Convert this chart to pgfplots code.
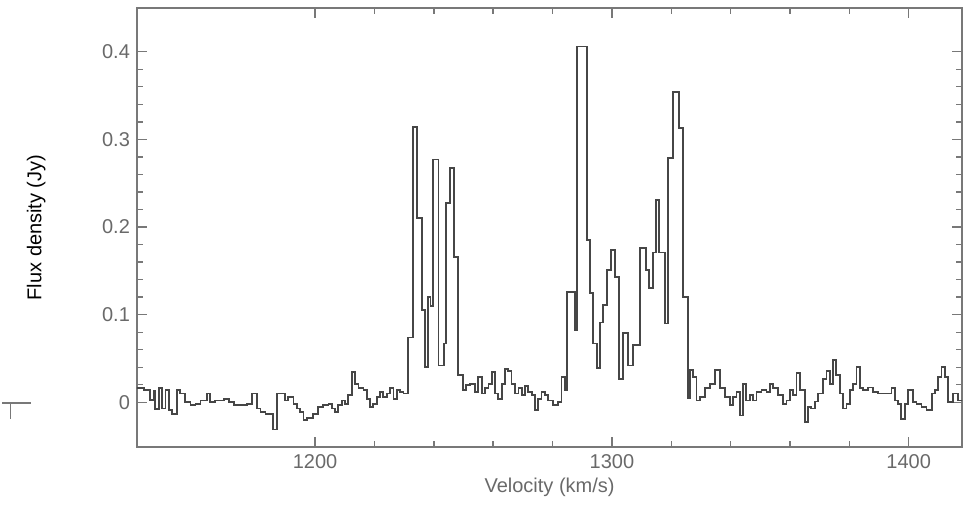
\documentclass[border=0pt]{standalone}
\usepackage{pgfplots}
\pgfplotsset{compat=1.18}
\usepackage{fontspec}
\setmainfont{Liberation Sans}

\definecolor{txtgray}{RGB}{105,105,105}
\definecolor{framegray}{RGB}{120,120,120}
\definecolor{specgray}{RGB}{70,70,70}

\begin{document}
\begin{tikzpicture}
\begin{axis}[
    scale only axis,
    width=412.5pt, height=219.5pt,
    xmin=1140, xmax=1418,
    ymin=-0.051, ymax=0.45,
    xtick={1200,1300,1400},
    xticklabels={1200,1300,1400},
    ytick={0,0.1,0.2,0.3,0.4},
    yticklabels={0,0.1,0.2,0.3,0.4},
    minor x tick num=4,
    minor y tick num=4,
    major tick length=5pt,
    minor tick length=3pt,
    every tick/.style={framegray, line width=0.7pt},
    axis line style={framegray, line width=0.8pt},
    tick align=inside,
    every tick label/.append style={font=\fontsize{10}{12}\selectfont, text=txtgray},
    /pgf/number format/assume math mode=true,
    xlabel={Velocity (km/s)},
    ylabel={Flux density (Jy)},
    label style={font=\fontsize{10}{12}\selectfont, text=txtgray},
    every axis y label/.style={at={(rel axis cs:-0.122,0.5)}, rotate=90, anchor=center},
    xlabel style={yshift=2pt},
    clip mode=individual,
]
\addplot[const plot, color=specgray, line width=0.9pt] coordinates {
(1139.0,0.016)(1142.3,0.014)(1144.5,0.003)(1145.7,0.013)(1146.2,-0.008)
(1147.4,0.016)(1148.5,-0.007)(1149.6,0.014)(1150.7,-0.009)(1151.9,-0.013)
(1153.5,0.014)(1154.6,0.010)(1156.3,0.000)(1158.0,-0.003)(1159.7,-0.002)
(1161.4,0.002)(1163.6,0.010)(1164.7,0.000)(1166.4,0.002)(1169.3,0.004)
(1170.9,0.000)(1172.6,-0.003)(1174.9,-0.003)(1177.1,-0.002)(1178.8,0.010)
(1180.5,-0.007)(1181.6,-0.011)(1183.3,-0.013)(1185.8,-0.031)(1187.1,0.010)
(1188.2,0.010)(1189.9,0.002)(1191.0,0.006)(1192.7,-0.002)(1193.8,-0.007)
(1194.9,-0.011)(1196.1,-0.020)(1197.2,-0.018)(1199.4,-0.013)(1201.1,-0.005)
(1202.8,-0.003)(1204.5,-0.002)(1205.6,-0.007)(1206.7,-0.011)(1207.8,-0.003)
(1209.0,0.002)(1210.1,-0.002)(1211.2,0.008)(1212.4,0.035)(1213.5,0.021)
(1214.6,0.016)(1216.3,0.014)(1217.4,0.004)(1218.5,-0.005)(1219.6,-0.002)
(1220.8,0.006)(1221.9,0.012)(1223.0,0.006)(1224.1,0.010)(1225.3,0.016)
(1226.4,0.004)(1227.5,0.014)(1228.6,0.012)(1229.8,0.010)
(1231.3,0.074)(1233.0,0.314)(1234.3,0.210)(1235.9,0.105)(1237.0,0.040)
(1238.0,0.120)(1238.9,0.110)(1239.7,0.277)(1241.6,0.042)(1243.4,0.067)
(1244.1,0.227)(1245.5,0.267)(1246.8,0.166)(1248.1,0.031)(1249.8,0.014)
(1250.8,0.020)(1252.2,0.021)(1253.9,0.012)(1255.0,0.029)(1256.1,0.010)
(1257.2,0.016)(1258.4,0.021)(1259.5,0.035)(1260.6,0.010)(1261.7,0.004)
(1262.9,0.021)(1264.0,0.038)(1265.1,0.036)(1266.2,0.021)(1267.3,0.010)
(1268.5,0.016)(1269.6,0.008)(1270.7,0.019)(1271.8,0.012)(1273.0,0.008)
(1274.1,-0.009)(1275.2,0.004)(1276.3,0.012)(1277.4,0.008)(1278.6,0.002)
(1280.2,-0.003)(1281.9,0.000)(1283.0,0.029)(1284.2,0.014)(1284.8,0.126)
(1287.5,0.082)(1288.2,0.406)(1291.6,0.185)(1292.6,0.125)(1293.6,0.067)
(1295.0,0.039)(1296.0,0.091)(1297.0,0.111)(1298.3,0.151)(1299.7,0.174)
(1301.0,0.143)(1302.4,0.027)(1303.7,0.079)(1305.4,0.042)(1307.1,0.065)
(1309.4,0.176)(1311.4,0.151)(1312.5,0.130)(1313.8,0.171)(1314.8,0.231)
(1315.8,0.171)(1317.8,0.090)(1318.9,0.279)(1320.5,0.354)(1322.6,0.313)
(1323.9,0.120)(1325.6,0.005)(1326.3,0.037)(1327.4,0.029)(1328.5,0.002)
(1329.6,0.006)(1331.3,0.016)(1333.0,0.021)(1334.7,0.037)(1336.4,0.016)
(1338.0,0.006)(1339.7,-0.003)(1340.8,0.006)(1342.0,0.012)(1343.1,-0.015)
(1344.2,0.021)(1345.3,0.002)(1346.5,0.008)(1347.6,0.002)(1348.7,0.012)
(1350.4,0.014)(1352.1,0.012)(1353.2,0.021)(1354.3,0.016)(1356.0,0.008)
(1357.7,-0.002)(1358.8,0.002)(1359.9,0.014)(1361.0,0.008)(1362.2,0.033)
(1363.3,0.014)(1365.0,-0.022)(1366.1,-0.005)(1367.2,-0.007)(1368.4,0.001)
(1369.5,0.010)(1371.2,0.027)(1372.3,0.036)(1373.4,0.021)(1374.5,0.048)
(1375.6,0.031)(1376.8,0.010)(1377.9,-0.007)(1379.0,-0.002)(1380.1,0.014)
(1381.3,0.021)(1382.4,0.040)(1383.5,0.016)(1384.6,0.014)(1386.3,0.017)
(1388.0,0.012)(1389.7,0.010)(1392.5,0.010)(1394.2,0.016)(1395.3,0.002)
(1396.4,-0.002)(1397.5,-0.019)(1398.7,-0.002)(1399.8,0.014)(1401.5,0.000)
(1402.6,-0.002)(1404.3,-0.005)(1406.0,-0.009)(1407.7,0.010)(1408.8,0.014)
(1409.9,0.029)(1411.0,0.040)(1412.1,0.029)(1413.2,0.000)(1414.9,0.010)
(1416.6,0.002)(1419.0,0.002)
};
% stray mark at the left edge of the scan
\draw[framegray, line width=0.7pt] (rel axis cs:-0.163,0.100) -- (rel axis cs:-0.128,0.100);
\draw[framegray, line width=0.7pt] (rel axis cs:-0.153,0.100) -- (rel axis cs:-0.153,0.064);
\coordinate (bl) at (rel axis cs:-0.166,-0.132);
\coordinate (tr) at (rel axis cs:1.001,1.018);
\end{axis}
\pgfresetboundingbox
\useasboundingbox (bl) rectangle (tr);
\end{tikzpicture}
\end{document}
